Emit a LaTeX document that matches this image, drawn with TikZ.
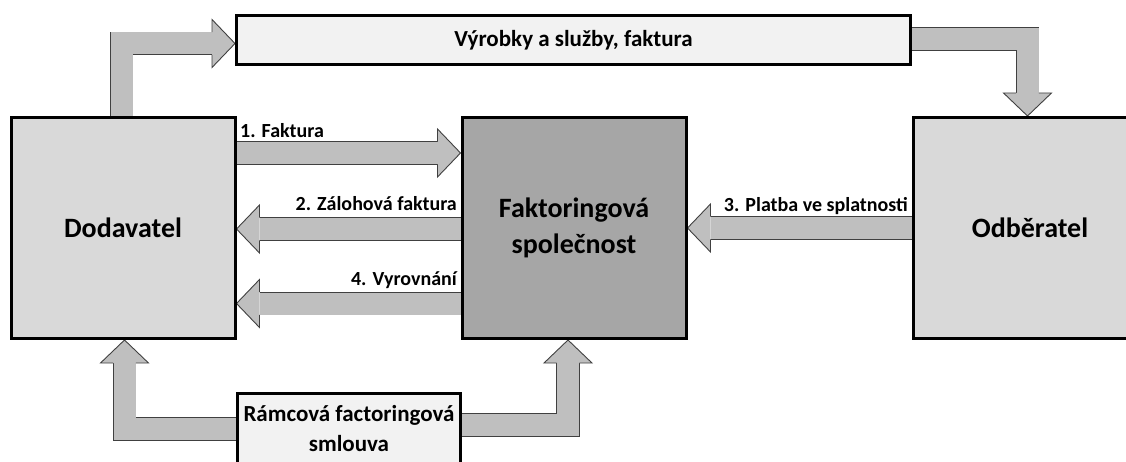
\documentclass[tikz,border=0pt]{standalone}
\usepackage{fontspec}
\setmainfont{Carlito}
\usepackage{tikz}
\usetikzlibrary{calc, positioning, backgrounds}

\definecolor{boxlight}{HTML}{D9D9D9}
\definecolor{boxdark}{HTML}{A6A6A6}
\definecolor{boxpale}{HTML}{F2F2F2}
\definecolor{arrowfill}{HTML}{BFBFBF}
\definecolor{arrowline}{HTML}{404040}

% head of a block arrow: #1 tip, #2 direction (0 right, 90 up, 180 left, 270 down)
\newcommand\bhead[2]{%
  \filldraw[arrowline, fill=arrowfill, line width=0.9pt, line join=miter, shift={(#1)}, rotate=#2]
    (-23,11.45) -- (-23,24) -- (0,0) -- (-23,-24) -- (-23,-11.45);}

\begin{document}
\begin{tikzpicture}[
  x=1pt, y=-1pt,
  every node/.style={font=\bfseries, align=center},
  party/.style={rectangle, draw=black, line width=3pt, fill=boxlight, minimum width=224pt, minimum height=221pt, inner sep=0pt, font=\fontsize{28}{36}\selectfont\bfseries},
  flow/.style={rectangle, draw=black, line width=3pt, fill=boxpale, inner sep=0pt, font=\fontsize{23}{30}\selectfont\bfseries},
  lbl/.style={inner sep=0pt, font=\fontsize{20}{24}\selectfont\bfseries},
  blockarrow/.style={draw=arrowline, line width=0.9pt, double=arrowfill, double distance=22pt, line join=miter}
]
\useasboundingbox (0,0) rectangle (1126,462);
\clip (0,0) rectangle (1126,462);

% Nodes
\node[party] (dod) at (123,228) {Dodavatel};
\node[party, fill=boxdark] (fak) at (574,228) {Faktoringová\\společnost};
\node[party, minimum width=234pt] (odb) at (1030,228) {Odběratel};
\node[flow, minimum width=674pt, minimum height=49pt] (zbozi) at (573.5,40) {Výrobky a služby, faktura};
\node[flow, minimum width=223pt, minimum height=100pt, anchor=north] (smlouva) at (349,391.5) {};
\node[flow, draw=none, fill=none] (smlouvatxt) at (349,429) {Rámcová factoringová\\smlouva};

% Coordinates of the arrow tips
\coordinate (k1) at ($(zbozi.west)+(0,3.5)$);
\coordinate (k2) at ($(odb.north)+(-2.5,0)$);
\coordinate (f1s) at ($(dod.north east)+(0,37)$);
\coordinate (f1t) at (fak.west |- f1s);
\coordinate (f2s) at ($(fak.west)+(0,1)$);
\coordinate (f2t) at (dod.east |- f2s);
\coordinate (f3t) at (fak.east);
\coordinate (f4s) at ($(fak.west)+(0,75.5)$);
\coordinate (f4t) at (dod.east |- f4s);
\coordinate (b1s) at ($(smlouva.north west)+(0,37.5)$);
\coordinate (b1t) at ($(dod.south)+(1.5,0)$);
\coordinate (b2s) at ($(smlouva.north east)+(0,33.5)$);
\coordinate (b2t) at ($(fak.south)+(-6,0)$);

% Arrows
\begin{scope}[on background layer]
\draw[blockarrow] ($(dod.north)+(-1.5,5)$) |- ($(k1)+(-23,0)$);
\bhead{k1}{0}
\draw[blockarrow] ($(zbozi.east)+(-5,-1)$) -| ($(k2)+(0,-23)$);
\bhead{k2}{270}
\draw[blockarrow] ($(f1s)+(-5,0)$) -- ($(f1t)+(-23,0)$);
\bhead{f1t}{0}
\draw[blockarrow] ($(f2s)+(5,0)$) -- ($(f2t)+(23,0)$);
\bhead{f2t}{180}
\draw[blockarrow] ($(odb.west)+(5,0)$) -- ($(f3t)+(23,0)$);
\bhead{f3t}{180}
\draw[blockarrow] ($(f4s)+(5,0)$) -- ($(f4t)+(23,0)$);
\bhead{f4t}{180}
\draw[blockarrow] ($(b1s)+(5,0)$) -| ($(b1t)+(0,23)$);
\bhead{b1t}{90}
\draw[blockarrow] ($(b2s)+(-5,0)$) -| ($(b2t)+(0,23)$);
\bhead{b2t}{90}
\end{scope}

% Labels
\node[lbl, anchor=base west] (l1) at (240,138) {1. Faktura};
\node[lbl, anchor=base east] (l2) at (457,211) {2. Zálohová faktura};
\node[lbl, anchor=base east] (l3) at (908,212) {3. Platba ve splatnosti};
\node[lbl, anchor=base east] (l4) at (457,285) {4. Vyrovnání};

\end{tikzpicture}
\end{document}
